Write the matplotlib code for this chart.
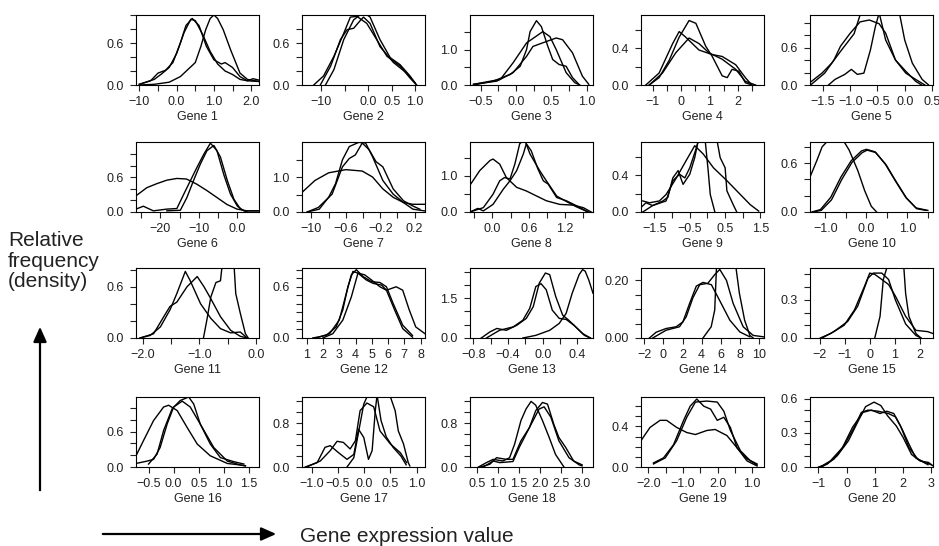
import matplotlib.pyplot as plt

plt.rcParams['font.family'] = ['Liberation Sans', 'DejaVu Sans']

M = "\u2212"

# ---- density curves: three per gene, (value, density) ----
gene1 = [
    [(-1.0, 0.01), (-0.7, 0.06), (-0.5, 0.17), (-0.3, 0.21), (-0.1, 0.32), (0.1, 0.6), (0.25, 0.85),
     (0.42, 0.95), (0.6, 0.85), (0.8, 0.55), (1.0, 0.36), (1.2, 0.3), (1.3, 0.32), (1.5, 0.25),
     (1.7, 0.12), (1.9, 0.06), (2.05, 0.09), (2.21, 0.07)],
    [(-1.0, 0.01), (-0.6, 0.08), (-0.4, 0.16), (-0.2, 0.25), (0.0, 0.45), (0.2, 0.75), (0.38, 0.94),
     (0.5, 0.92), (0.7, 0.72), (0.9, 0.48), (1.1, 0.3), (1.3, 0.2), (1.5, 0.15), (1.7, 0.08),
     (1.9, 0.06), (2.21, 0.05)],
    [(-1.0, 0.0), (-0.6, 0.01), (-0.2, 0.04), (0.1, 0.12), (0.3, 0.22), (0.5, 0.32), (0.65, 0.55),
     (0.78, 0.79), (0.9, 0.95), (1.0, 1.0), (1.1, 0.95), (1.25, 0.79), (1.45, 0.5), (1.7, 0.17),
     (1.9, 0.08), (2.21, 0.05)],
]
gene2 = [
    [(-1.16, 0.0), (-0.95, 0.13), (-0.73, 0.41), (-0.52, 0.74), (-0.38, 0.97), (-0.24, 0.98),
     (-0.03, 0.88), (0.18, 0.65), (0.4, 0.41), (0.68, 0.27), (0.89, 0.1), (1.03, 0.0)],
    [(-1.02, 0.0), (-0.8, 0.27), (-0.59, 0.65), (-0.45, 0.79), (-0.31, 0.81), (-0.17, 0.92),
     (-0.1, 0.97), (0.04, 0.88), (0.25, 0.55), (0.54, 0.32), (0.82, 0.17), (1.0, 0.03)],
    [(-0.91, 0.0), (-0.73, 0.22), (-0.52, 0.65), (-0.31, 0.93), (-0.1, 1.04), (0.04, 0.97),
     (0.25, 0.65), (0.47, 0.39), (0.68, 0.29), (0.89, 0.13), (1.03, 0.0)],
]
gene3 = [
    [(-0.6, 0.0), (-0.32, 0.11), (-0.08, 0.3), (0.06, 0.53), (0.15, 1.0), (0.2, 1.51), (0.29, 1.82),
     (0.36, 1.65), (0.45, 1.1), (0.52, 0.72), (0.61, 0.58), (0.71, 0.53), (0.8, 0.21), (0.9, 0.0)],
    [(-0.6, 0.02), (-0.22, 0.16), (-0.04, 0.63), (0.15, 1.19), (0.38, 1.51), (0.48, 1.37),
     (0.57, 1.0), (0.71, 0.35), (0.83, 0.07), (0.9, 0.0)],
    [(-0.6, 0.02), (-0.27, 0.11), (-0.04, 0.35), (0.15, 0.81), (0.24, 1.09), (0.43, 1.23),
     (0.57, 1.33), (0.66, 1.28), (0.8, 0.91), (0.94, 0.25), (1.03, 0.02)],
]
gene4 = [
    [(-1.13, 0.0), (-0.78, 0.08), (-0.42, 0.27), (-0.07, 0.52), (0.28, 0.7), (0.52, 0.67),
     (0.87, 0.42), (1.1, 0.31), (1.45, 0.1), (1.63, 0.08), (1.8, 0.17), (2.04, 0.15), (2.27, 0.025),
     (2.5, 0.0)],
    [(-1.25, 0.0), (-0.78, 0.13), (-0.3, 0.45), (-0.07, 0.58), (0.16, 0.52), (0.63, 0.38),
     (1.1, 0.33), (1.45, 0.31), (1.93, 0.22), (2.27, 0.08), (2.5, 0.0)],
    [(-1.13, 0.0), (-0.66, 0.13), (-0.19, 0.35), (0.28, 0.51), (0.63, 0.45), (0.98, 0.35),
     (1.45, 0.28), (1.93, 0.17), (2.27, 0.04), (2.63, 0.0)],
]
gene5 = [
    [(-1.73, 0.0), (-1.47, 0.19), (-1.3, 0.4), (-1.18, 0.62), (-1.0, 0.83), (-0.82, 1.01),
     (-0.65, 1.04), (-0.47, 0.98), (-0.35, 0.83), (-0.17, 0.4), (0.02, 0.19), (0.2, 0.09), (0.37, 0.0)],
    [(-1.74, 0.04), (-1.52, 0.19), (-1.34, 0.35), (-1.16, 0.56), (-0.93, 0.82), (-0.82, 1.12),
     (-0.65, 1.3), (-0.46, 1.12), (-0.35, 0.72), (-0.17, 0.4), (0.02, 0.22), (0.2, 0.06), (0.31, 0.0)],
    [(-1.4, 0.0), (-1.28, 0.09), (-1.1, 0.17), (-0.98, 0.25), (-0.87, 0.17), (-0.75, 0.19),
     (-0.63, 0.56), (-0.54, 0.93), (-0.48, 1.12), (-0.3, 1.4), (-0.09, 1.12), (0.0, 0.72),
     (0.14, 0.35), (0.32, 0.09), (0.44, 0.0)],
]
gene6 = [
    [(-26.3, 0.28), (-23.5, 0.42), (-20.9, 0.49), (-18.3, 0.55), (-15.7, 0.58), (-13.2, 0.57),
     (-10.5, 0.48), (-7.9, 0.37), (-5.3, 0.25), (-2.7, 0.13), (-0.1, 0.05), (2.5, 0.02), (5.6, 0.02)],
    [(-26.3, 0.05), (-24.4, 0.1), (-21.8, 0.02), (-18.3, 0.05), (-15.7, 0.06), (-13.9, 0.31),
     (-12.2, 0.54), (-10.5, 0.77), (-8.7, 1.0), (-7.0, 1.19), (-5.3, 1.06), (-3.5, 0.64),
     (-1.8, 0.31), (0.0, 0.1), (1.7, 0.02), (5.6, 0.02)],
    [(-18.3, 0.02), (-14.8, 0.03), (-13.1, 0.25), (-11.4, 0.54), (-9.6, 0.83), (-7.9, 1.06),
     (-6.1, 1.15), (-4.4, 0.95), (-2.6, 0.54), (-0.9, 0.22), (0.8, 0.05), (2.5, 0.0)],
]
gene7 = [
    [(-1.11, 0.56), (-0.96, 0.9), (-0.8, 1.12), (-0.6, 1.21), (-0.41, 1.17), (-0.29, 1.0),
     (-0.17, 0.66), (-0.05, 0.42), (0.07, 0.27), (0.18, 0.22), (0.32, 0.22)],
    [(-1.05, 0.0), (-0.91, 0.08), (-0.8, 0.42), (-0.72, 0.81), (-0.64, 1.49), (-0.56, 1.87),
     (-0.45, 1.99), (-0.37, 1.97), (-0.29, 1.58), (-0.17, 0.9), (-0.05, 0.51), (0.07, 0.27),
     (0.18, 0.08), (0.32, 0.03)],
    [(-1.05, 0.0), (-0.92, 0.13), (-0.76, 0.51), (-0.64, 1.29), (-0.56, 1.53), (-0.49, 1.63),
     (-0.41, 1.97), (-0.33, 1.78), (-0.25, 1.44), (-0.17, 1.29), (-0.05, 0.66), (0.07, 0.32),
     (0.18, 0.17), (0.26, 0.08)],
]
gene8 = [
    [(-0.37, 0.74), (-0.21, 1.14), (-0.04, 1.42), (0.01, 1.46), (0.12, 1.32), (0.23, 0.95),
     (0.4, 0.68), (0.56, 0.58), (0.73, 0.44), (0.89, 0.31), (1.11, 0.21), (1.33, 0.19), (1.5, 0.12),
     (1.63, 0.0)],
    [(-0.37, 0.0), (-0.24, 0.1), (-0.15, 0.03), (0.01, 0.21), (0.18, 0.63), (0.29, 0.86),
     (0.4, 1.14), (0.51, 1.6), (0.56, 1.88), (0.64, 1.69), (0.75, 1.19), (0.84, 0.86), (0.92, 0.77),
     (1.06, 0.4), (1.22, 0.31), (1.39, 0.17), (1.58, 0.0)],
    [(-0.37, 0.0), (-0.15, 0.12), (0.01, 0.49), (0.12, 0.86), (0.2, 0.95), (0.29, 0.91),
     (0.37, 1.32), (0.45, 1.88), (0.53, 2.0), (0.62, 1.6), (0.78, 1.14), (0.89, 0.86), (1.06, 0.44),
     (1.22, 0.29), (1.39, 0.14), (1.58, 0.0)],
]
gene9 = [
    [(-1.83, 0.12), (-1.64, 0.1), (-1.36, 0.12), (-1.17, 0.19), (-0.88, 0.37), (-0.6, 0.56),
     (-0.36, 0.72), (-0.12, 0.63), (0.17, 0.48), (0.55, 0.34), (0.93, 0.19), (1.21, 0.08), (1.45, 0.01)],
    [(-1.88, 0.05), (-1.74, 0.1), (-1.55, 0.07), (-1.26, 0.12), (-1.12, 0.16), (-0.98, 0.37),
     (-0.83, 0.45), (-0.69, 0.3), (-0.5, 0.41), (-0.36, 0.59), (-0.25, 0.8), (0.0, 0.9),
     (0.26, 0.8), (0.36, 0.59), (0.5, 0.48), (0.55, 0.23), (0.74, 0.07), (0.83, 0.0)],
    [(-1.83, 0.0), (-1.55, 0.07), (-1.17, 0.12), (-0.98, 0.34), (-0.79, 0.41), (-0.64, 0.37),
     (-0.5, 0.48), (-0.31, 0.7), (-0.2, 0.85), (-0.07, 0.8), (0.02, 0.45), (0.08, 0.19), (0.21, 0.0)],
]
gene10 = [
    [(-1.375, 0.43), (-1.21, 0.63), (-1.08, 0.8), (-0.8, 0.95), (-0.54, 0.86), (-0.42, 0.76),
     (-0.21, 0.51), (-0.04, 0.26), (0.12, 0.07), (0.25, 0.0)],
    [(-1.33, 0.0), (-1.12, 0.03), (-0.87, 0.18), (-0.62, 0.43), (-0.37, 0.63), (-0.12, 0.75),
     (0.0, 0.77), (0.21, 0.74), (0.46, 0.59), (0.71, 0.38), (0.96, 0.18), (1.21, 0.05), (1.5, 0.02)],
    [(-1.3, 0.0), (-1.1, 0.02), (-0.85, 0.15), (-0.6, 0.4), (-0.35, 0.61), (-0.1, 0.73),
     (0.02, 0.76), (0.23, 0.73), (0.48, 0.58), (0.73, 0.37), (0.98, 0.17), (1.23, 0.04), (1.45, 0.02)],
]
gene11 = [
    [(-2.05, 0.0), (-1.87, 0.03), (-1.69, 0.13), (-1.52, 0.33), (-1.4, 0.52), (-1.25, 0.78),
     (-1.17, 0.68), (-0.98, 0.4), (-0.8, 0.23), (-0.63, 0.11), (-0.45, 0.06), (-0.28, 0.07), (-0.16, 0.0)],
    [(-2.05, 0.0), (-1.81, 0.05), (-1.63, 0.25), (-1.52, 0.37), (-1.4, 0.42), (-1.22, 0.6),
     (-1.04, 0.72), (-0.92, 0.6), (-0.8, 0.46), (-0.63, 0.25), (-0.45, 0.09), (-0.28, 0.02), (-0.16, 0.0)],
    [(-0.93, 0.0), (-0.87, 0.21), (-0.8, 0.48), (-0.71, 0.65), (-0.63, 0.67), (-0.6, 0.85),
     (-0.5, 1.0), (-0.39, 0.85), (-0.36, 0.52), (-0.28, 0.29), (-0.19, 0.05), (-0.14, 0.0)],
]
gene12 = [
    [(1.37, 0.0), (2.19, 0.03), (2.81, 0.13), (3.22, 0.33), (3.53, 0.6), (3.84, 0.78), (4.15, 0.76),
     (4.66, 0.68), (5.08, 0.64), (5.6, 0.62), (5.9, 0.56), (6.4, 0.33), (6.9, 0.11), (7.5, 0.01)],
    [(1.58, 0.0), (2.4, 0.05), (3.0, 0.21), (3.43, 0.52), (3.74, 0.74), (4.05, 0.8), (4.46, 0.72),
     (4.98, 0.66), (5.5, 0.65), (5.9, 0.6), (6.3, 0.41), (6.9, 0.15), (7.5, 0.03)],
    [(1.99, 0.0), (2.6, 0.05), (3.22, 0.21), (3.74, 0.48), (4.15, 0.76), (4.56, 0.74), (4.98, 0.68),
     (5.5, 0.6), (5.9, 0.56), (6.5, 0.6), (6.9, 0.56), (7.3, 0.33), (7.7, 0.13), (8.27, 0.05)],
]
gene13 = [
    [(-0.71, 0.0), (-0.61, 0.23), (-0.53, 0.36), (-0.42, 0.29), (-0.3, 0.48), (-0.19, 0.74),
     (-0.11, 1.18), (-0.04, 2.07), (0.03, 2.45), (0.08, 2.39), (0.15, 1.56), (0.23, 0.86),
     (0.3, 0.67), (0.38, 0.42), (0.48, 0.1), (0.55, 0.0)],
    [(-0.65, 0.0), (-0.5, 0.29), (-0.34, 0.42), (-0.23, 0.67), (-0.15, 1.12), (-0.08, 1.94),
     (-0.02, 2.05), (0.04, 1.82), (0.11, 1.05), (0.19, 0.74), (0.27, 0.7), (0.36, 0.48),
     (0.46, 0.17), (0.55, 0.0)],
    [(-0.23, 0.0), (-0.08, 0.1), (0.08, 0.29), (0.19, 0.55), (0.27, 0.93), (0.34, 1.69),
     (0.42, 2.39), (0.46, 2.58), (0.49, 2.52), (0.53, 2.2), (0.58, 1.69)],
]
gene14 = [
    [(-1.47, 0.0), (-0.77, 0.02), (0.28, 0.033), (1.33, 0.039), (2.04, 0.056), (2.74, 0.12),
     (3.44, 0.18), (4.14, 0.193), (5.02, 0.185), (5.89, 0.13), (6.95, 0.062), (8.0, 0.021), (9.05, 0.004)],
    [(-1.12, 0.0), (0.28, 0.027), (1.68, 0.039), (2.39, 0.074), (3.09, 0.14), (3.8, 0.185),
     (4.65, 0.19), (5.37, 0.22), (5.9, 0.238), (6.6, 0.2), (7.3, 0.12), (8.35, 0.039), (9.4, 0.009),
     (10.5, 0.004)],
    [(4.14, 0.0), (5.0, 0.039), (5.37, 0.097), (5.55, 0.243), (6.5, 0.32), (7.6, 0.243),
     (7.95, 0.156), (8.5, 0.062), (9.05, 0.009), (9.4, 0.0)],
]
gene15 = [
    [(-1.97, 0.0), (-1.56, 0.035), (-1.02, 0.1), (-0.61, 0.22), (-0.2, 0.41), (0.0, 0.51),
     (0.2, 0.5), (0.48, 0.46), (0.75, 0.42), (1.02, 0.33), (1.43, 0.17), (1.84, 0.06), (2.31, 0.05),
     (2.52, 0.035)],
    [(-1.9, 0.0), (-1.43, 0.05), (-0.88, 0.13), (-0.48, 0.25), (-0.07, 0.47), (0.14, 0.51),
     (0.48, 0.51), (0.75, 0.46), (1.02, 0.3), (1.43, 0.11), (1.84, 0.02), (2.04, 0.0)],
    [(0.2, 0.0), (0.41, 0.17), (0.54, 0.46), (0.68, 0.55), (1.0, 0.7), (1.36, 0.55), (1.43, 0.35),
     (1.56, 0.17), (1.84, 0.035), (2.04, 0.0)],
]
gene16 = [
    [(-0.75, 0.19), (-0.6, 0.45), (-0.4, 0.79), (-0.2, 1.02), (-0.1, 1.05), (0.07, 0.96),
     (0.27, 0.67), (0.47, 0.39), (0.73, 0.19), (1.07, 0.06), (1.33, 0.034), (1.43, 0.02)],
    [(-0.75, 0.06), (-0.53, 0.1), (-0.4, 0.13), (-0.27, 0.33), (-0.13, 0.73), (0.0, 1.02),
     (0.17, 1.12), (0.33, 1.02), (0.53, 0.73), (0.73, 0.39), (0.93, 0.16), (1.2, 0.09), (1.4, 0.05)],
    [(-0.5, 0.05), (-0.33, 0.22), (-0.2, 0.62), (-0.03, 0.99), (0.13, 1.13), (0.3, 1.19),
     (0.4, 1.07), (0.53, 0.73), (0.8, 0.33), (1.07, 0.1), (1.33, 0.034), (1.43, 0.02)],
]
gene17 = [
    [(-1.13, 0.0), (-0.9, 0.08), (-0.75, 0.36), (-0.65, 0.39), (-0.49, 0.26), (-0.33, 0.14),
     (-0.2, 0.23), (-0.11, 0.69), (-0.01, 0.54), (0.08, 0.14), (0.15, 0.3), (0.21, 1.03),
     (0.24, 1.28), (0.37, 1.5), (0.5, 1.28), (0.59, 1.03), (0.65, 0.66), (0.75, 0.42),
     (0.84, 0.08), (0.87, 0.02)],
    [(-1.1, 0.0), (-0.84, 0.11), (-0.65, 0.3), (-0.52, 0.47), (-0.4, 0.45), (-0.27, 0.33),
     (-0.17, 0.48), (-0.08, 1.03), (0.05, 1.17), (0.18, 1.1), (0.3, 0.66), (0.5, 0.42),
     (0.69, 0.26), (0.81, 0.08)],
    [(-0.33, 0.0), (-0.2, 0.17), (-0.14, 0.48), (-0.08, 0.79), (-0.01, 1.15), (0.05, 1.28),
     (0.15, 1.4), (0.25, 1.28), (0.32, 0.85), (0.42, 0.55), (0.55, 0.36), (0.7, 0.2), (0.8, 0.04)],
]
gene18 = [
    [(0.54, 0.0), (0.73, 0.08), (0.89, 0.14), (1.12, 0.11), (1.28, 0.17), (1.4, 0.42), (1.55, 0.85),
     (1.67, 1.06), (1.79, 1.2), (1.9, 1.13), (2.06, 0.85), (2.22, 0.54), (2.37, 0.23), (2.57, 0.0)],
    [(0.58, 0.0), (0.81, 0.05), (0.97, 0.17), (1.2, 0.14), (1.36, 0.14), (1.55, 0.48), (1.75, 0.72),
     (1.9, 1.03), (2.06, 1.18), (2.18, 1.15), (2.33, 0.78), (2.45, 0.54), (2.61, 0.36), (2.8, 0.11),
     (3.0, 0.04)],
    [(0.66, 0.0), (0.89, 0.11), (1.05, 0.08), (1.36, 0.1), (1.51, 0.36), (1.75, 0.72), (1.98, 1.06),
     (2.1, 1.1), (2.26, 0.91), (2.45, 0.48), (2.69, 0.17), (2.93, 0.04), (3.0, 0.02)],
]
gene19 = [
    [(-2.21, 0.26), (-1.95, 0.39), (-1.66, 0.46), (-1.47, 0.46), (-1.18, 0.39), (-0.89, 0.34),
     (-0.64, 0.32), (-0.31, 0.36), (-0.07, 0.37), (0.27, 0.31), (0.56, 0.19), (0.85, 0.08), (1.14, 0.03)],
    [(-1.85, 0.04), (-1.56, 0.09), (-1.27, 0.22), (-0.98, 0.46), (-0.79, 0.6), (-0.6, 0.67),
     (-0.4, 0.6), (-0.2, 0.57), (-0.01, 0.46), (0.18, 0.49), (0.37, 0.39), (0.56, 0.19),
     (0.85, 0.06), (1.14, 0.01)],
    [(-1.85, 0.03), (-1.51, 0.09), (-1.18, 0.26), (-0.89, 0.49), (-0.64, 0.64), (-0.31, 0.65),
     (-0.01, 0.64), (0.18, 0.55), (0.37, 0.36), (0.66, 0.16), (0.95, 0.06), (1.14, 0.02)],
]
gene20 = [
    [(-1.0, 0.0), (-0.7, 0.024), (-0.33, 0.1), (0.06, 0.23), (0.42, 0.41), (0.67, 0.53), (0.97, 0.57),
     (1.21, 0.54), (1.45, 0.45), (1.76, 0.36), (2.0, 0.26), (2.3, 0.11), (2.6, 0.053), (2.9, 0.04),
     (3.06, 0.01)],
    [(-0.94, 0.0), (-0.58, 0.053), (-0.15, 0.17), (0.21, 0.35), (0.58, 0.48), (0.88, 0.5),
     (1.18, 0.47), (1.42, 0.49), (1.67, 0.47), (1.91, 0.36), (2.21, 0.17), (2.52, 0.07), (2.88, 0.02)],
    [(-0.88, 0.0), (-0.45, 0.07), (-0.09, 0.19), (0.27, 0.35), (0.52, 0.48), (0.76, 0.5),
     (1.12, 0.49), (1.48, 0.47), (1.73, 0.44), (1.97, 0.33), (2.21, 0.2), (2.45, 0.08), (2.76, 0.04),
     (3.0, 0.02)],
]
genes = [gene1, gene2, gene3, gene4, gene5, gene6, gene7, gene8, gene9, gene10,
         gene11, gene12, gene13, gene14, gene15, gene16, gene17, gene18, gene19, gene20]

# ---- axis ticks as printed on each small panel ----
x_ticks = [
    [-1.0, -0.5, 0.0, 0.5, 1.0, 1.5, 2.0], [-1.0, -0.5, 0.0, 0.5, 1.0],
    [-0.5, -0.25, 0.0, 0.25, 0.5, 0.75, 1.0], [-1, -0.5, 0, 0.5, 1, 1.5, 2, 2.5],
    [-1.5, -1.0, -0.5, 0.0, 0.5],
    [-25, -20, -15, -10, -5, 0], [-1.0, -0.8, -0.6, -0.4, -0.2, 0.0, 0.2],
    [-0.3, 0.0, 0.3, 0.6, 0.9, 1.2, 1.5], [-1.5, -1.0, -0.5, 0.0, 0.5, 1.0, 1.5],
    [-1.0, -0.5, 0.0, 0.5, 1.0, 1.5],
    [-2.0, -1.5, -1.0, -0.5, 0.0], [1, 2, 3, 4, 5, 6, 7, 8],
    [-0.8, -0.6, -0.4, -0.2, 0.0, 0.2, 0.4], [-2, 0, 2, 4, 6, 8, 10], [-2, -1, 0, 1, 2],
    [-0.5, 0.0, 0.5, 1.0, 1.5], [-1.0, -0.5, 0.0, 0.5, 1.0],
    [0.5, 1.0, 1.5, 2.0, 2.5, 3.0], [-2.0, -1.5, -1.0, -0.5, 0.0, 0.5, 1.0], [-1, 0, 1, 2, 3],
]
x_labels = [
    [M + "10", "", "0.0", "", "1.0", "", "2.0"], [M + "10", "", "0.0", "0.5", "1.0"],
    [M + "0.5", "", "0.0", "", "0.5", "", "1.0"], [M + "1", "", "0", "", "1", "", "2", ""],
    [M + "1.5", M + "1.0", M + "0.5", "0.0", "0.5"],
    ["", M + "20", "", M + "10", "", "0.0"], [M + "10", "", M + "0.6", "", M + "0.2", "", "0.2"],
    ["", "0.0", "", "0.6", "", "1.2", ""], [M + "1.5", "", M + "0.5", "", "0.5", "", "1.5"],
    [M + "1.0", "", "0.0", "", "1.0", ""],
    [M + "2.0", "", M + "1.0", "", "0.0"], ["1", "2", "3", "4", "5", "6", "7", "8"],
    [M + "0.8", "", M + "0.4", "", "0.0", "", "0.4"], [M + "2", "0", "2", "4", "6", "8", "10"],
    [M + "2", M + "1", "0", "1", "2"],
    [M + "0.5", "0.0", "0.5", "1.0", "1.5"], [M + "1.0", M + "0.5", "0.0", "0.5", "1.0"],
    ["0.5", "1.0", "1.5", "2.0", "2.5", "3.0"], [M + "2.0", "", M + "1.0", "", "2.0", "", "1.0"],
    [M + "1", "0", "1", "2", "3"],
]
y_ticks = [
    [0, 0.2, 0.4, 0.6, 0.8, 1.0], [0, 0.2, 0.4, 0.6, 0.8], [0, 0.5, 1.0, 1.5], [0, 0.2, 0.4, 0.6],
    [0, 0.2, 0.4, 0.6, 0.8, 1.0],
    [0, 0.2, 0.4, 0.6, 0.8, 1.0], [0, 0.5, 1.0, 1.5], [0, 0.5, 1.0, 1.5], [0, 0.2, 0.4, 0.6],
    [0, 0.2, 0.4, 0.6, 0.8],
    [0, 0.2, 0.4, 0.6, 0.8], [0, 0.1, 0.2, 0.3, 0.4, 0.5, 0.6, 0.7, 0.8], [0, 0.5, 1.0, 1.5, 2.0, 2.5],
    [0, 0.05, 0.10, 0.15, 0.20], [0, 0.1, 0.2, 0.3, 0.4, 0.5],
    [0, 0.2, 0.4, 0.6, 0.8, 1.0], [0, 0.2, 0.4, 0.6, 0.8, 1.0, 1.2], [0, 0.2, 0.4, 0.6, 0.8, 1.0, 1.2],
    [0, 0.1, 0.2, 0.3, 0.4, 0.5, 0.6], [0, 0.1, 0.2, 0.3, 0.4, 0.5, 0.6],
]
y_labels = [
    ["0.0", "", "", "0.6", "", ""], ["0.0", "", "", "0.6", ""], ["0.0", "", "1.0", ""], ["0.0", "", "0.4", ""],
    ["0.0", "", "", "0.6", "", ""],
    ["0.0", "", "", "0.6", "", ""], ["0.0", "", "1.0", ""], ["0.0", "", "1.0", ""], ["0.0", "", "0.4", ""],
    ["0.0", "", "", "0.6", ""],
    ["0.0", "", "", "0.6", ""], ["0.0", "", "", "", "", "", "0.6", "", ""], ["0.0", "", "", "1.5", "", ""],
    ["0.00", "", "", "", "0.20"], ["0.0", "", "", "0.3", "", ""],
    ["0.0", "", "", "0.6", "", ""], ["0.0", "", "", "", "0.8", "", ""], ["0.0", "", "", "", "0.8", "", ""],
    ["0.0", "", "", "", "0.4", "", ""], ["0.0", "", "", "0.3", "", "", "0.6"],
]
x_lims = [(-1.09, 2.21), (-1.41, 1.21), (-0.65, 1.09), (-1.42, 2.93), (-1.74, 0.52),
          (-26.3, 5.6), (-1.11, 0.32), (-0.37, 1.66), (-1.88, 1.6), (-1.375, 1.625),
          (-2.12, 0.05), (0.71, 8.27), (-0.84, 0.58), (-2.35, 10.53), (-2.38, 2.52),
          (-0.75, 1.7), (-1.19, 1.16), (0.34, 3.26), (-2.21, 1.34), (-1.3, 3.06)]
y_tops = [1.0, 1.0, 1.98, 0.76, 1.12,
          1.21, 2.0, 1.93, 0.76, 0.86,
          0.82, 0.82, 2.64, 0.243, 0.55,
          1.19, 1.28, 1.28, 0.69, 0.615]

# ---- layout (pixels on a 939 x 546 canvas) ----
W, H = 939, 546
col_left = [136, 302, 470, 641, 810]
row_top = [15, 142, 268, 397]
pw, ph = 123, 70

fig = plt.figure(figsize=(W / 100, H / 100), dpi=100)

for i, curves in enumerate(genes):
    r, c = divmod(i, 5)
    ax = fig.add_axes([col_left[c] / W, 1 - (row_top[r] + ph) / H, pw / W, ph / H])
    for pts in curves:
        xs = [p[0] for p in pts]
        ys = [p[1] for p in pts]
        ax.plot(xs, ys, color="black", lw=1.0)
    ax.set_xlim(*x_lims[i])
    ax.set_ylim(0, y_tops[i])
    ax.set_xticks(x_ticks[i])
    ax.set_xticklabels(x_labels[i])
    ax.set_yticks(y_ticks[i])
    ax.set_yticklabels(y_labels[i])
    ax.tick_params(direction="out", length=4, width=0.8, labelsize=9, colors="#222222")
    ax.tick_params(axis="x", pad=4)
    ax.tick_params(axis="y", pad=5)
    for s in ax.spines.values():
        s.set_linewidth(0.8)
    ax.set_xlabel(f"Gene {i + 1}", fontsize=9, labelpad=2, color="#222222")

fig.text(8 / W, 1 - 261 / H, "Relative\nfrequency\n(density)", fontsize=15,
         ha="left", va="center", linespacing=1.1, color="#222222")
fig.text(300 / W, 1 - 537 / H, "Gene expression value", fontsize=15,
         ha="left", va="center", color="#222222")

arrow = dict(arrowstyle="-|>,head_length=0.9,head_width=0.4", color="black", lw=1.6)
fig.add_artist(plt.Annotation("", xy=(40 / W, 1 - 324 / H), xytext=(40 / W, 1 - 493 / H),
                              xycoords="figure fraction", arrowprops=arrow))
fig.add_artist(plt.Annotation("", xy=(279 / W, 1 - 534 / H), xytext=(100 / W, 1 - 534 / H),
                              xycoords="figure fraction", arrowprops=arrow))

fig.savefig("out.png", dpi=100)
